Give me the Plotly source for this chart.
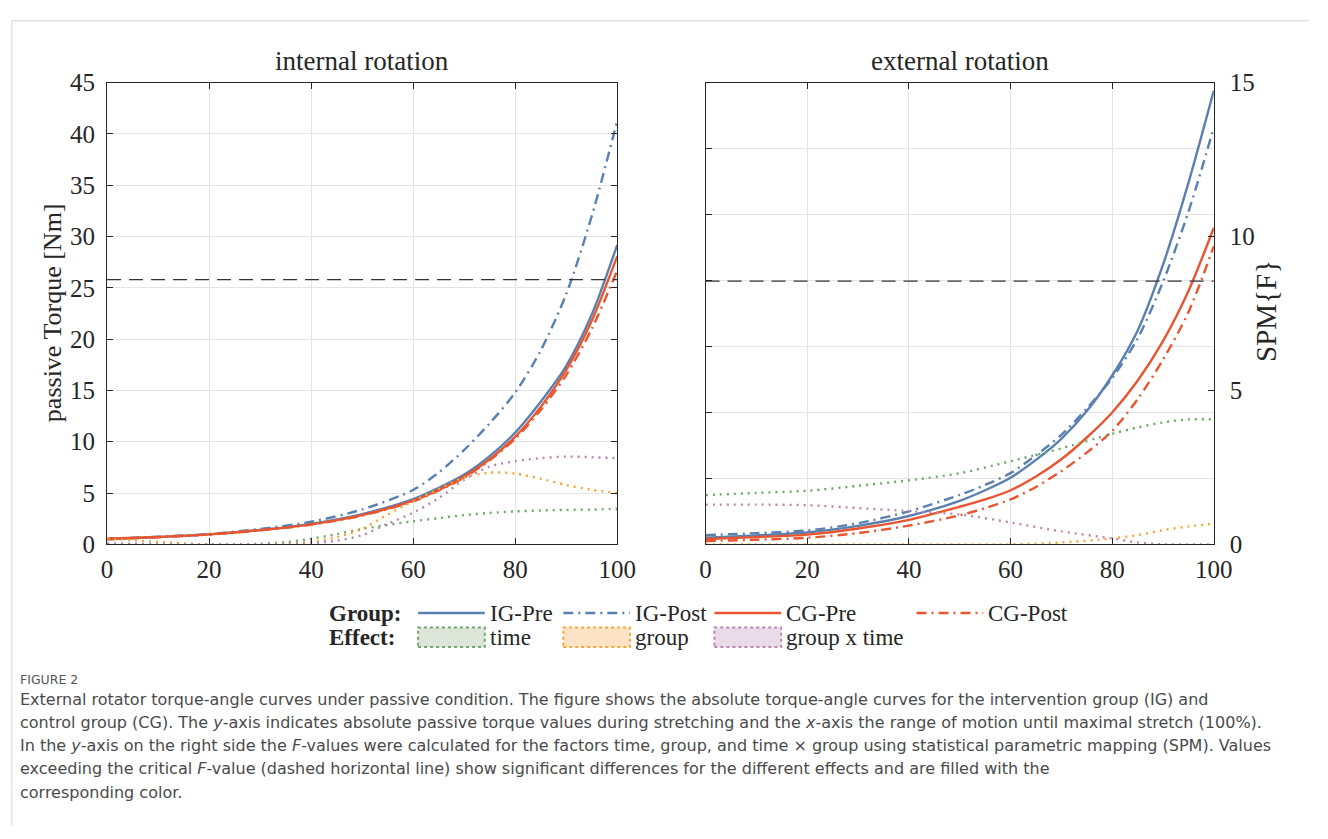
import plotly.graph_objects as go

W, H = 1328, 839

# ---------------- data ----------------
# internal rotation: torque [Nm]
x_int = [0, 10, 20, 30, 40, 50, 60, 65, 70, 75, 80, 85, 90, 95, 100]
int_ig_pre = [0.5, 0.7, 0.97, 1.4, 2.0, 2.95, 4.4, 5.5, 6.8, 8.6, 10.9, 13.9, 17.4, 22.4, 29.2]
int_ig_post = [0.55, 0.75, 1.0, 1.5, 2.2, 3.4, 5.3, 7.0, 9.2, 11.8, 14.8, 18.9, 24.4, 32.0, 41.3]
int_cg_pre = [0.55, 0.72, 0.97, 1.38, 1.95, 2.85, 4.25, 5.3, 6.6, 8.3, 10.5, 13.4, 17.0, 21.8, 28.1]
int_cg_post = [0.5, 0.7, 0.95, 1.35, 1.92, 2.8, 4.2, 5.25, 6.5, 8.2, 10.3, 13.1, 16.5, 21.0, 26.7]

# internal rotation: SPM{F}
x_f_int = [0, 5, 10, 15, 20, 25, 30, 35, 40, 45, 50, 55, 60, 65, 70, 75, 80, 85, 90, 95, 100]
int_f_time = [0, 0, 0, 0, 0, 0, 0.02, 0.07, 0.18, 0.33, 0.5, 0.63, 0.75, 0.85, 0.95, 1.02, 1.07, 1.1, 1.12, 1.13, 1.15]
int_f_group = [0.18, 0.13, 0.08, 0.03, 0, 0, 0, 0.02, 0.08, 0.23, 0.5, 0.97, 1.4, 1.8, 2.17, 2.33, 2.3, 2.13, 1.93, 1.77, 1.67]
int_f_gxt = [0.03, 0.02, 0, 0, 0, 0, 0, 0, 0.03, 0.12, 0.3, 0.67, 1.03, 1.5, 2.1, 2.53, 2.7, 2.8, 2.85, 2.83, 2.8]

# external rotation: torque [Nm]
x_ext = [0, 10, 20, 30, 40, 50, 55, 60, 65, 70, 75, 80, 85, 90, 95, 100]
ext_ig_pre = [0.5, 0.68, 0.9, 1.4, 2.15, 3.3, 4.1, 5.05, 6.4, 8.0, 10.1, 12.8, 16.2, 21.2, 27.4, 34.4]
ext_ig_post = [0.7, 0.85, 1.05, 1.6, 2.5, 3.75, 4.5, 5.4, 6.75, 8.3, 10.3, 12.6, 15.6, 19.9, 25.2, 31.6]
ext_cg_pre = [0.4, 0.55, 0.74, 1.2, 1.86, 2.85, 3.4, 4.1, 5.15, 6.45, 8.1, 10.0, 12.4, 15.4, 19.2, 24.0]
ext_cg_post = [0.25, 0.35, 0.5, 0.85, 1.42, 2.2, 2.75, 3.4, 4.35, 5.55, 6.95, 8.6, 11.0, 14.0, 17.6, 22.6]

# external rotation: SPM{F}
x_f_ext = [0, 10, 20, 30, 40, 50, 60, 70, 80, 85, 90, 95, 100]
ext_f_time = [1.6, 1.67, 1.74, 1.9, 2.08, 2.31, 2.7, 3.12, 3.59, 3.8, 3.96, 4.06, 4.06]
ext_f_group = [0, 0, 0, 0, 0, 0, 0, 0.06, 0.19, 0.3, 0.46, 0.58, 0.67]
ext_f_gxt = [1.29, 1.29, 1.27, 1.18, 1.08, 0.97, 0.71, 0.42, 0.19, 0.06, 0, 0, 0]

# critical F thresholds (internal, external)
crit_x = [0, 100]
crit_f = [8.6, 8.55]

x_ticks = [0, 20, 40, 60, 80, 100]
torque_ticks_int = [0, 5, 10, 15, 20, 25, 30, 35, 40, 45]
torque_ticks_ext = [0, 5, 10, 15, 20, 25, 30, 35]
f_ticks = [0, 5, 10, 15]

group_names = ["IG-Pre", "IG-Post", "CG-Pre", "CG-Post"]
effect_names = ["time", "group", "group x time"]
panel_titles = ["internal rotation", "external rotation"]

caption_head = "FIGURE 2"
caption_lines = [
    "External rotator torque-angle curves under passive condition. The figure shows the absolute torque-angle curves for the intervention group (IG) and",
    "control group (CG). The <i>y</i>-axis indicates absolute passive torque values during stretching and the <i>x</i>-axis the range of motion until maximal stretch (100%).",
    "In the <i>y</i>-axis on the right side the <i>F</i>-values were calculated for the factors time, group, and time \u00d7 group using statistical parametric mapping (SPM). Values",
    "exceeding the critical <i>F</i>-value (dashed horizontal line) show significant differences for the different effects and are filled with the",
    "corresponding color.",
]

# ---------------- style ----------------
BLUE = "#5A80AF"
RED = "#E8552F"
GREEN = "#6FA86A"
ORANGE = "#F7A534"
PINK = "#B987B1"
FILLS = ["#dbe6d8", "#fde3c6", "#e9dce8"]
EFFECT_COLORS = [GREEN, ORANGE, PINK]
AX = "#262626"
GRID = "#e4e4e4"
SERIF = "Liberation Serif"
DASHDOT = "10px,5px,2px,5px"
DOT = "2px,5px"

group_styles = [(BLUE, "solid"), (BLUE, DASHDOT), (RED, "solid"), (RED, DASHDOT)]


def px(x):
    return x / W


def py(y):
    return 1 - y / H


L_DOM = [px(103), px(623)]
R_DOM = [px(713), px(1231)]
Y_DOM = [py(549), py(72)]

fig = go.Figure()

# ---- F curves (dotted) ----
for ys, col in zip([int_f_time, int_f_group, int_f_gxt], EFFECT_COLORS):
    fig.add_trace(go.Scatter(x=x_f_int, y=ys, mode="lines", xaxis="x", yaxis="y3",
                             line=dict(color=col, width=2.4, dash=DOT, shape="spline", smoothing=0.8),
                             showlegend=False, hoverinfo="skip"))
for ys, col in zip([ext_f_time, ext_f_group, ext_f_gxt], EFFECT_COLORS):
    fig.add_trace(go.Scatter(x=x_f_ext, y=ys, mode="lines", xaxis="x2", yaxis="y4",
                             line=dict(color=col, width=2.4, dash=DOT, shape="spline", smoothing=0.8),
                             showlegend=False, hoverinfo="skip"))

# ---- critical lines ----
fig.add_trace(go.Scatter(x=crit_x, y=[crit_f[0]] * 2, mode="lines", xaxis="x", yaxis="y3",
                         line=dict(color="#333333", width=1.3, dash="14px,8px"), showlegend=False))
fig.add_trace(go.Scatter(x=crit_x, y=[crit_f[1]] * 2, mode="lines", xaxis="x2", yaxis="y4",
                         line=dict(color="#333333", width=1.3, dash="14px,8px"), showlegend=False))

# ---- torque curves ----
for ys, (col, dash), name in zip([int_ig_pre, int_ig_post, int_cg_pre, int_cg_post], group_styles, group_names):
    fig.add_trace(go.Scatter(x=x_int, y=ys, mode="lines", xaxis="x", yaxis="y", name=name,
                             line=dict(color=col, width=2.4, dash=dash, shape="spline", smoothing=0.8),
                             showlegend=False))
for ys, (col, dash), name in zip([ext_ig_pre, ext_ig_post, ext_cg_pre, ext_cg_post], group_styles, group_names):
    fig.add_trace(go.Scatter(x=x_ext, y=ys, mode="lines", xaxis="x2", yaxis="y2", name=name,
                             line=dict(color=col, width=2.4, dash=dash, shape="spline", smoothing=0.8),
                             showlegend=False))

TICKFONT = dict(family=SERIF, size=25, color=AX)
axis_common = dict(showline=True, linecolor=AX, linewidth=1, ticks="inside", ticklen=6,
                   tickcolor=AX, tickwidth=1, showgrid=True, gridcolor=GRID, gridwidth=1,
                   zeroline=False, tickfont=TICKFONT)

fig.update_layout(
    width=W, height=H, autosize=False,
    margin=dict(l=0, r=0, t=0, b=0),
    paper_bgcolor="white", plot_bgcolor="white",
    showlegend=False,
    xaxis=dict(domain=L_DOM, range=[0, 100], tickvals=x_ticks, anchor="y", mirror="ticks",
               ticklabelstandoff=3, **axis_common),
    yaxis=dict(domain=Y_DOM, range=[0, 45], tickvals=torque_ticks_int, anchor="x", mirror="ticks",
               ticklabelstandoff=6, **axis_common),
    yaxis3=dict(overlaying="y", range=[0, 15], visible=False, anchor="x"),
    xaxis2=dict(domain=R_DOM, range=[0, 100], tickvals=x_ticks, anchor="y2", mirror="ticks",
                ticklabelstandoff=3, **axis_common),
    yaxis2=dict(domain=Y_DOM, range=[0, 35], tickvals=torque_ticks_ext, anchor="x2",
                showticklabels=False, **axis_common),
    yaxis4=dict(overlaying="y2", side="right", anchor="x2", range=[0, 15], tickvals=f_ticks,
                showline=True, linecolor=AX, linewidth=1, ticks="inside", ticklen=6, tickcolor=AX,
                showgrid=False, zeroline=False, ticklabelstandoff=10, tickfont=TICKFONT),
)

ann = []
# panel titles
for t, dom in zip(panel_titles, [L_DOM, R_DOM]):
    ann.append(dict(text=t, x=(dom[0] + dom[1]) / 2, y=py(50), xref="paper", yref="paper",
                    xanchor="center", yanchor="middle", showarrow=False,
                    font=dict(family=SERIF, size=27, color=AX)))
# axis titles
ann.append(dict(text="passive Torque [Nm]", x=px(47), y=py(310), xref="paper", yref="paper",
                textangle=-90, xanchor="center", yanchor="middle", showarrow=False,
                font=dict(family=SERIF, size=26, color=AX)))
ann.append(dict(text="SPM{F}", x=px(1284), y=py(308), xref="paper", yref="paper",
                textangle=-90, xanchor="center", yanchor="middle", showarrow=False,
                font=dict(family=SERIF, size=29, color=AX)))

# ---- legend (manual) ----
LEG_FONT = dict(family=SERIF, size=23, color=AX)
row1, row2 = 620, 645
ann.append(dict(text="<b>Group:</b>", x=px(405), y=py(row1), xref="paper", yref="paper",
                xanchor="right", yanchor="middle", showarrow=False, font=LEG_FONT))
ann.append(dict(text="<b>Effect:</b>", x=px(399), y=py(row2), xref="paper", yref="paper",
                xanchor="right", yanchor="middle", showarrow=False, font=LEG_FONT))
shapes = []
group_x0 = [420, 568, 722, 928]
for x0, (col, dash), name in zip(group_x0, group_styles, group_names):
    shapes.append(dict(type="line", xref="paper", yref="paper", x0=px(x0), x1=px(x0 + 68),
                       y0=py(row1), y1=py(row1), line=dict(color=col, width=2.4, dash=dash)))
    ann.append(dict(text=name, x=px(x0 + 71), y=py(row1), xref="paper", yref="paper",
                    xanchor="left", yanchor="middle", showarrow=False, font=LEG_FONT))
effect_x0 = [420, 568, 722]
for x0, col, fc, name in zip(effect_x0, EFFECT_COLORS, FILLS, effect_names):
    shapes.append(dict(type="rect", xref="paper", yref="paper", x0=px(x0), x1=px(x0 + 68),
                       y0=py(row2 + 10), y1=py(row2 - 10), fillcolor=fc,
                       line=dict(color=col, width=2, dash="dot")))
    ann.append(dict(text=name, x=px(x0 + 71), y=py(row2), xref="paper", yref="paper",
                    xanchor="left", yanchor="middle", showarrow=False, font=LEG_FONT))

# ---- caption ----
CAP = "DejaVu Sans"
ann.append(dict(text=caption_head, x=px(12), y=py(689), xref="paper", yref="paper",
                xanchor="left", yanchor="middle", showarrow=False,
                font=dict(family=CAP, size=12.5, color="#555555")))
for i, line in enumerate(caption_lines):
    ann.append(dict(text=line, x=px(12), y=py(709 + 24 * i), xref="paper", yref="paper",
                    xanchor="left", yanchor="middle", showarrow=False, align="left",
                    font=dict(family=CAP, size=16, color="#4a4a4a")))

# card border
shapes.append(dict(type="line", xref="paper", yref="paper", x0=px(6), x1=px(6), y0=0, y1=py(8),
                   line=dict(color="#d4d4d4", width=1)))
shapes.append(dict(type="line", xref="paper", yref="paper", x0=px(6), x1=1, y0=py(8), y1=py(8),
                   line=dict(color="#d4d4d4", width=1)))

fig.update_layout(annotations=ann, shapes=shapes)
fig.write_html("out.html")
